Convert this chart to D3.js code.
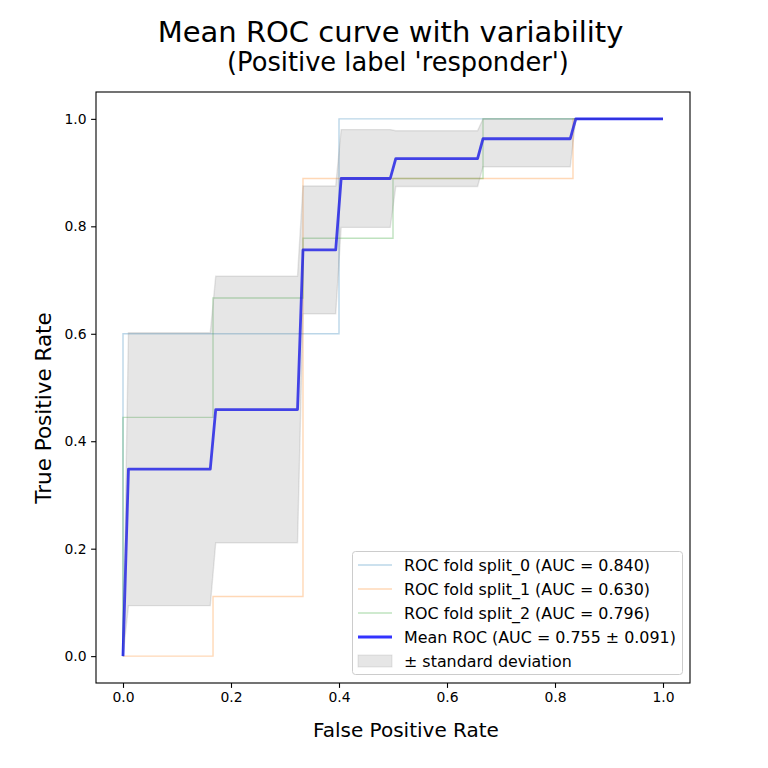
<!DOCTYPE html>
<html>
<head>
<meta charset="utf-8">
<script src="https://cdn.jsdelivr.net/npm/d3@7"></script>
<style>
  body { margin: 0; background: #fff; }
  text { font-family: "DejaVu Sans", sans-serif; fill: #000; }
</style>
</head>
<body>
<svg id="chart" width="768" height="768"></svg>
<script>
// fold ROC curves (step points)
var fold0Fpr = [0, 0, 0.4, 0.4, 1];
var fold0Tpr = [0, 0.6, 0.6, 1, 1];
var fold1Fpr = [0, 0.1667, 0.1667, 0.3333, 0.3333, 0.8333, 0.8333, 1];
var fold1Tpr = [0, 0, 0.1111, 0.1111, 0.8889, 0.8889, 1, 1];
var fold2Fpr = [0, 0, 0.1667, 0.1667, 0.3333, 0.3333, 0.5, 0.5, 0.6667, 0.6667, 1];
var fold2Tpr = [0, 0.4444, 0.4444, 0.6667, 0.6667, 0.7778, 0.7778, 0.8889, 0.8889, 1, 1];

// mean curve and +/- std band
var meanFpr = [0, 0.0101, 0.1616, 0.1717, 0.3232, 0.3333, 0.3939, 0.4040, 0.4949, 0.5051, 0.6566, 0.6667, 0.8283, 0.8384, 1];
var meanTpr = [0, 0.348, 0.348, 0.459, 0.459, 0.756, 0.756, 0.889, 0.889, 0.926, 0.926, 0.963, 0.963, 1, 1];
var stdUpper = [0, 0.602, 0.602, 0.707, 0.707, 0.875, 0.875, 0.980, 0.980, 0.978, 0.978, 1, 1, 1, 1];
var stdLower = [0, 0.094, 0.094, 0.211, 0.211, 0.637, 0.637, 0.798, 0.798, 0.874, 0.874, 0.911, 0.911, 1, 1];

var foldLabels = ["ROC fold split_0 (AUC = 0.840)", "ROC fold split_1 (AUC = 0.630)", "ROC fold split_2 (AUC = 0.796)"];
var meanLabel = "Mean ROC (AUC = 0.755 \u00b1 0.091)";
var bandLabel = "\u00b1 standard deviation";
var ticks = [0, 0.2, 0.4, 0.6, 0.8, 1.0];

var foldColors = ["#1f77b4", "#ff7f0e", "#2ca02c"];

// plot box (don't use "top" as a global name, it's window.top)
var box = {x0: 96, x1: 690, y0: 92, y1: 683};

var svg = d3.select("#chart");

var x = d3.scaleLinear().domain([-0.05, 1.05]).range([box.x0, box.x1]);
var y = d3.scaleLinear().domain([-0.05, 1.05]).range([box.y1, box.y0]);

function zip(xs, ys) {
  return xs.map(function(v, i) { return [v, ys[i]]; });
}

var line = d3.line()
  .x(function(d) { return x(d[0]); })
  .y(function(d) { return y(d[1]); });

var plot = svg.append("g");

var folds = [zip(fold0Fpr, fold0Tpr), zip(fold1Fpr, fold1Tpr), zip(fold2Fpr, fold2Tpr)];
folds.forEach(function(f, i) {
  plot.append("path")
    .attr("d", line(f))
    .attr("fill", "none")
    .attr("stroke", foldColors[i])
    .attr("stroke-opacity", 0.3)
    .attr("stroke-width", 1.4);
});

plot.append("path")
  .attr("d", line(zip(meanFpr, meanTpr)))
  .attr("fill", "none")
  .attr("stroke", "#0000ff")
  .attr("stroke-opacity", 0.8)
  .attr("stroke-width", 2.8)
  .attr("stroke-linejoin", "round");

var band = meanFpr.map(function(v, i) { return [v, stdLower[i], stdUpper[i]]; });
var area = d3.area()
  .x(function(d) { return x(d[0]); })
  .y0(function(d) { return y(d[1]); })
  .y1(function(d) { return y(d[2]); });

plot.append("path")
  .attr("d", area(band))
  .attr("fill", "#808080")
  .attr("fill-opacity", 0.2)
  .attr("stroke", "#808080")
  .attr("stroke-opacity", 0.2)
  .attr("stroke-width", 1.4);

// axes
var xAxis = d3.axisBottom(x).tickValues(ticks).tickFormat(d3.format(".1f"))
  .tickSize(4.9).tickPadding(4.5);
var yAxis = d3.axisLeft(y).tickValues(ticks).tickFormat(d3.format(".1f"))
  .tickSize(4.9).tickPadding(4.5);

var gx = svg.append("g").attr("transform", "translate(0," + box.y1 + ")").call(xAxis);
var gy = svg.append("g").attr("transform", "translate(" + box.x0 + ",0)").call(yAxis);
[gx, gy].forEach(function(g) {
  g.select(".domain").remove();
  g.selectAll(".tick line").attr("stroke", "#000").attr("stroke-width", 1.1);
  g.selectAll(".tick text")
    .style("font-family", "DejaVu Sans")
    .style("font-size", "13.9px")
    .attr("fill", "#000");
});

svg.append("rect")
  .attr("x", box.x0).attr("y", box.y0)
  .attr("width", box.x1 - box.x0).attr("height", box.y1 - box.y0)
  .attr("fill", "none")
  .attr("stroke", "#000")
  .attr("stroke-width", 1.1);

// labels
svg.append("text")
  .attr("x", 406).attr("y", 737)
  .attr("text-anchor", "middle")
  .style("font-size", "20px")
  .text("False Positive Rate");

svg.append("text")
  .attr("transform", "translate(51,408) rotate(-90)")
  .attr("text-anchor", "middle")
  .style("font-size", "21.5px")
  .text("True Positive Rate");

svg.append("text")
  .attr("x", 390.5).attr("y", 42)
  .attr("text-anchor", "middle")
  .style("font-size", "29px")
  .text("Mean ROC curve with variability");

svg.append("text")
  .attr("x", 398).attr("y", 71)
  .attr("text-anchor", "middle")
  .style("font-size", "25.7px")
  .text("(Positive label 'responder')");

// legend
var lg = svg.append("g");
lg.append("rect")
  .attr("x", 352.5).attr("y", 551.5)
  .attr("width", 330).attr("height", 123)
  .attr("rx", 3).attr("ry", 3)
  .attr("fill", "#fff").attr("fill-opacity", 0.8)
  .attr("stroke", "#cccccc");

var rowY = [565, 589, 613, 637, 661];
var legendItems = foldLabels.concat([meanLabel, bandLabel]);
legendItems.forEach(function(label, i) {
  var cy = rowY[i];
  if (i < 3) {
    lg.append("line")
      .attr("x1", 358).attr("x2", 392).attr("y1", cy).attr("y2", cy)
      .attr("stroke", foldColors[i]).attr("stroke-opacity", 0.3).attr("stroke-width", 1.4);
  } else if (i == 3) {
    lg.append("line")
      .attr("x1", 358).attr("x2", 392).attr("y1", cy).attr("y2", cy)
      .attr("stroke", "#0000ff").attr("stroke-opacity", 0.8).attr("stroke-width", 2.8);
  } else {
    lg.append("rect")
      .attr("x", 358).attr("y", cy - 6).attr("width", 34).attr("height", 12)
      .attr("fill", "#808080").attr("fill-opacity", 0.2)
      .attr("stroke", "#808080").attr("stroke-opacity", 0.2);
  }
  lg.append("text")
    .attr("x", 404).attr("y", cy)
    .attr("dy", "0.36em")
    .style("font-size", "15.9px")
    .text(label);
});
</script>
</body>
</html>
